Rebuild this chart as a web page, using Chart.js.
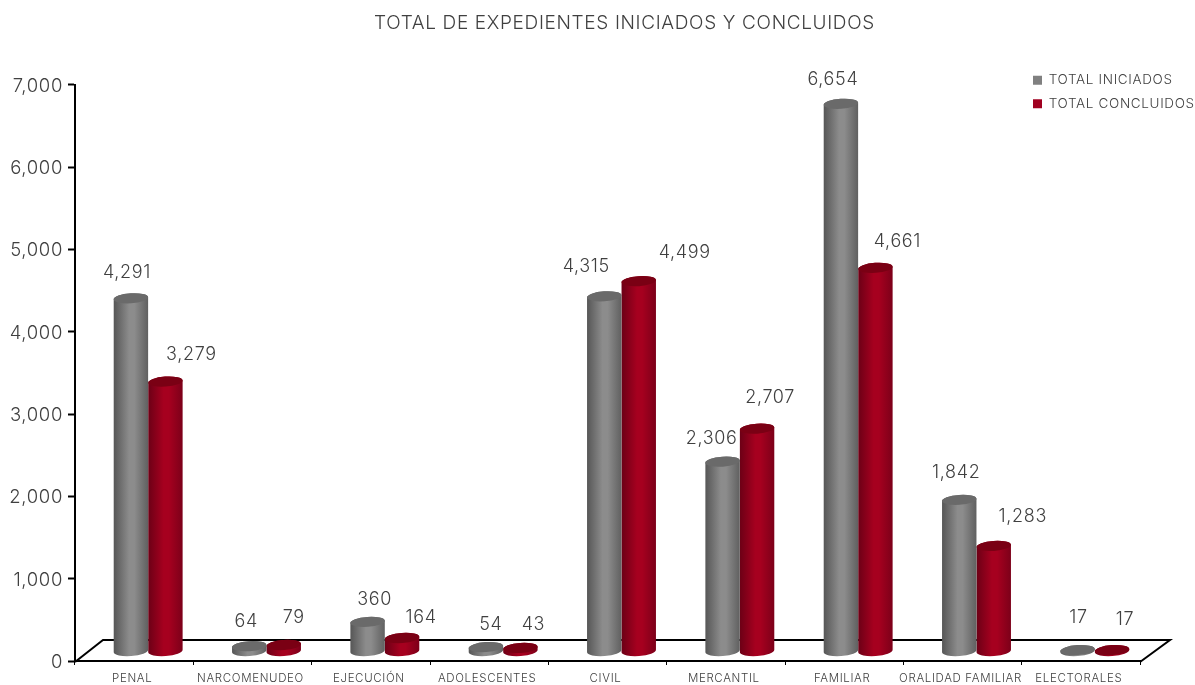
<!DOCTYPE html>
<html><head><meta charset="utf-8">
<style>html,body{margin:0;padding:0;background:#fff}#wrap{width:1195px;height:685px}</style>
<script src="https://cdn.jsdelivr.net/npm/chart.js@4"></script>
</head><body><div id="wrap"><canvas id="c" width="1195" height="685"></canvas></div>
<script>
const categories = ['PENAL','NARCOMENUDEO','EJECUCIÓN','ADOLESCENTES','CIVIL','MERCANTIL','FAMILIAR','ORALIDAD FAMILIAR','ELECTORALES'];
const iniciados = [4291,64,360,54,4315,2306,6654,1842,17];
const concluidos = [3279,79,164,43,4499,2707,4661,1283,17];
const seriesNames = ['TOTAL INICIADOS','TOTAL CONCLUIDOS'];
const chartTitle = 'TOTAL DE EXPEDIENTES INICIADOS Y CONCLUIDOS';
const yTicks = [0,1000,2000,3000,4000,5000,6000,7000];
// label nudges relative to each bar's top (px)
const nudgeIniciados = [[-4,-26],[-3,-25],[7,-22],[5,-22],[-18,-30],[-11,-23],[-8,-24],[-3,-27],[1,-33]];
const nudgeConcluidos = [[26,-27],[10,-27],[19,-20],[13,-23],[46,-29],[13,-31],[22,-26],[29,-29],[13,-31]];
const FONT = 'Inter, "Open Sans", sans-serif';
const TEXT = '#404040';
const SPACING = '0.65px';
const DEPTH_X = 14, DEPTH_Y = 9.5, RY = 5, TILT = -0.07;
const palettes = [
  {edge:'#565656',mid:'#8c8c8c',edge2:'#606060',top:'#6a6a6a'},
  {edge:'#6c0016',mid:'#a6001f',edge2:'#7c0019',top:'#7a0014'}
];
const fmt = v => v.toLocaleString('en-US');

const cylinders = {
  id:'cylinders',
  beforeUpdate(chart){ chart.ctx.letterSpacing = SPACING; },
  beforeDraw(chart){ chart.ctx.letterSpacing = SPACING; },
  afterLayout(chart){
    const t = chart.titleBlock; t.left += 54.5; t.right += 54.5;
    const l = chart.legend;
    const w = l.width, h = l.height;
    l.left = 1023; l.right = 1023 + w; l.top = 63.5; l.bottom = 63.5 + h;
  },
  beforeDatasetsDraw(chart){
    const {ctx, chartArea:a} = chart;
    ctx.save();
    ctx.strokeStyle='#000'; ctx.lineWidth=2;
    ctx.beginPath();
    ctx.moveTo(a.left, a.bottom+1);
    ctx.lineTo(a.left+28, a.bottom-21);
    ctx.lineTo(a.right+30, a.bottom-21);
    ctx.lineTo(a.right, a.bottom+1);
    ctx.stroke();
    ctx.restore();
  },
  beforeDatasetDraw(chart,args){
    const {ctx} = chart;
    const p = palettes[args.index];
    args.meta.data.forEach(el=>{
      const w = el.width, rx = w/2;
      const cx = el.x + DEPTH_X, top = el.y - DEPTH_Y, base = el.base - DEPTH_Y;
      const g = ctx.createLinearGradient(cx-rx,0,cx+rx,0);
      g.addColorStop(0,p.edge); g.addColorStop(.45,p.mid); g.addColorStop(.6,p.mid); g.addColorStop(1,p.edge2);
      ctx.save();
      ctx.fillStyle = g;
      ctx.beginPath();
      ctx.ellipse(cx,base,rx,RY,TILT,0,Math.PI);
      ctx.ellipse(cx,top,rx,RY,TILT,Math.PI,Math.PI*2);
      ctx.closePath();
      ctx.fill();
      ctx.fillStyle = p.top;
      ctx.beginPath();
      ctx.ellipse(cx,top,rx,RY,TILT,0,Math.PI*2);
      ctx.fill();
      ctx.restore();
    });
    return false;
  },
  afterDatasetsDraw(chart){
    const {ctx} = chart;
    const nudges=[nudgeIniciados,nudgeConcluidos];
    ctx.save();
    ctx.font='300 18px '+FONT; ctx.fillStyle=TEXT; ctx.textAlign='center'; ctx.textBaseline='middle';
    chart.data.datasets.forEach((ds,i)=>{
      chart.getDatasetMeta(i).data.forEach((el,j)=>{
        const [nx,ny]=nudges[i][j];
        ctx.fillText(fmt(ds.data[j]), el.x+DEPTH_X+nx, el.y-DEPTH_Y+ny);
      });
    });
    ctx.restore();
  }
};

new Chart(document.getElementById('c'),{
  type:'bar',
  data:{labels:categories,datasets:[
    {label:seriesNames[0],data:iniciados,backgroundColor:'#808080',borderWidth:0,categoryPercentage:.583,barPercentage:1},
    {label:seriesNames[1],data:concluidos,backgroundColor:'#a00020',borderWidth:0,categoryPercentage:.583,barPercentage:1}
  ]},
  plugins:[cylinders],
  options:{
    responsive:false,animation:false,
    layout:{padding:{left:0,right:55,top:0,bottom:0}},
    scales:{
      x:{
        grid:{drawOnChartArea:false,color:'#000',tickLength:4,tickWidth:1},
        border:{color:'#000',width:2},
        ticks:{color:TEXT,font:{family:FONT,size:11.5,weight:300},padding:7,labelOffset:-2,maxRotation:0,autoSkip:false},
        afterFit(s){s.height=24;}
      },
      y:{
        min:0,max:7000,
        afterBuildTicks(s){s.ticks=yTicks.map(v=>({value:v}));},
        grid:{drawOnChartArea:false,color:'#000',tickLength:7,tickWidth:2},
        border:{color:'#000',width:2},
        ticks:{color:TEXT,font:{family:FONT,size:18.5,weight:300},padding:5,labelOffset:1.5,callback:v=>fmt(v)},
        afterFit(s){s.width=75;}
      }
    },
    plugins:{
      tooltip:{enabled:false},
      title:{display:true,text:chartTitle,color:TEXT,font:{family:FONT,size:19,weight:300,lineHeight:1.2},padding:{top:12,bottom:50}},
      legend:{position:'chartArea',align:'start',labels:{boxWidth:9,boxHeight:9,padding:10,color:TEXT,font:{family:FONT,size:13.5,weight:300}}}
    }
  }
});
</script></body></html>
